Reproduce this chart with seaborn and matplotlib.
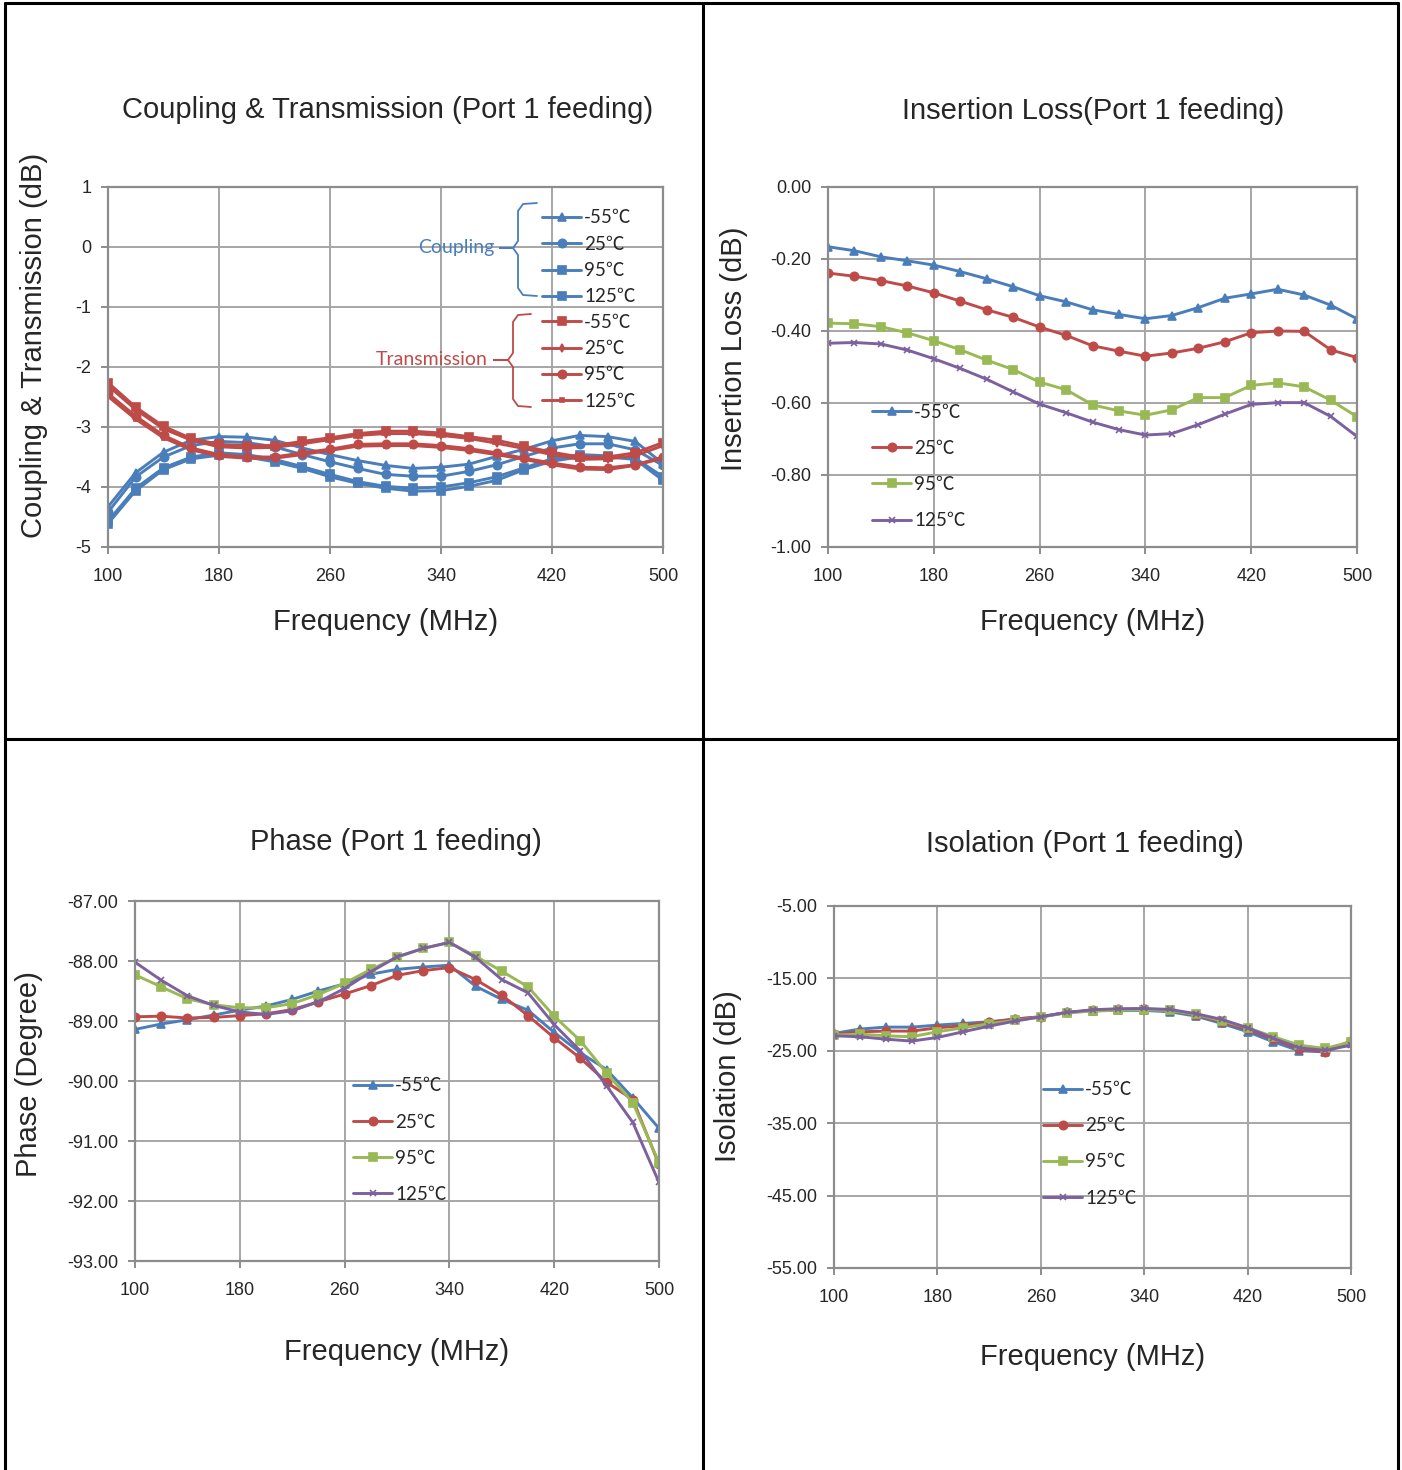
import matplotlib
matplotlib.use('Agg')
import matplotlib.pyplot as plt
import seaborn as sns
from matplotlib.lines import Line2D
from matplotlib.ticker import FormatStrFormatter

# x axis (MHz) and temperature labels
freq = [100, 120, 140, 160, 180, 200, 220, 240, 260, 280, 300,
        320, 340, 360, 380, 400, 420, 440, 460, 480, 500]
temps = ['-55℃', '25℃', '95℃', '125℃']

# Coupling & Transmission (dB)
coup_m55 = [-4.33, -3.76, -3.42, -3.22, -3.16, -3.17, -3.22, -3.35, -3.46, -3.56, -3.64,
            -3.69, -3.67, -3.62, -3.49, -3.37, -3.23, -3.14, -3.16, -3.24, -3.61]
coup_25 = [-4.42, -3.83, -3.50, -3.31, -3.24, -3.26, -3.33, -3.46, -3.58, -3.69, -3.79,
           -3.82, -3.82, -3.74, -3.63, -3.49, -3.35, -3.28, -3.28, -3.38, -3.64]
coup_95 = [-4.57, -4.02, -3.68, -3.50, -3.43, -3.46, -3.54, -3.66, -3.79, -3.91, -3.99,
           -4.02, -4.00, -3.93, -3.83, -3.68, -3.53, -3.46, -3.48, -3.52, -3.83]
coup_125 = [-4.61, -4.06, -3.71, -3.53, -3.47, -3.50, -3.58, -3.69, -3.83, -3.94, -4.02,
            -4.07, -4.06, -3.99, -3.89, -3.71, -3.57, -3.50, -3.50, -3.54, -3.89]
trans_m55 = [-2.26, -2.67, -2.99, -3.19, -3.29, -3.31, -3.31, -3.24, -3.18, -3.11, -3.07,
             -3.07, -3.10, -3.16, -3.22, -3.32, -3.42, -3.50, -3.50, -3.43, -3.26]
trans_25 = [-2.31, -2.71, -3.03, -3.22, -3.33, -3.35, -3.34, -3.28, -3.21, -3.14, -3.11,
            -3.11, -3.14, -3.19, -3.27, -3.36, -3.46, -3.54, -3.53, -3.48, -3.31]
trans_95 = [-2.44, -2.82, -3.14, -3.35, -3.46, -3.50, -3.50, -3.43, -3.37, -3.29, -3.28,
            -3.28, -3.31, -3.36, -3.43, -3.52, -3.60, -3.67, -3.68, -3.63, -3.50]
trans_125 = [-2.49, -2.87, -3.18, -3.38, -3.49, -3.52, -3.52, -3.46, -3.39, -3.32, -3.31,
             -3.31, -3.34, -3.39, -3.46, -3.54, -3.63, -3.70, -3.71, -3.64, -3.52]

# Insertion loss (dB)
il_m55 = [-0.166, -0.177, -0.194, -0.205, -0.217, -0.235, -0.255, -0.277, -0.302, -0.319, -0.341,
          -0.354, -0.366, -0.357, -0.335, -0.309, -0.297, -0.284, -0.300, -0.328, -0.366]
il_25 = [-0.239, -0.248, -0.260, -0.275, -0.294, -0.317, -0.341, -0.362, -0.389, -0.412, -0.441,
         -0.456, -0.470, -0.461, -0.448, -0.430, -0.405, -0.400, -0.401, -0.452, -0.474]
il_95 = [-0.378, -0.380, -0.388, -0.405, -0.427, -0.452, -0.481, -0.507, -0.542, -0.563, -0.605,
         -0.622, -0.634, -0.619, -0.585, -0.585, -0.551, -0.544, -0.555, -0.592, -0.638]
il_125 = [-0.434, -0.432, -0.436, -0.453, -0.477, -0.504, -0.534, -0.569, -0.603, -0.627, -0.653,
          -0.674, -0.689, -0.685, -0.660, -0.631, -0.604, -0.599, -0.599, -0.637, -0.693]

# Phase (degree)
ph_m55 = [-89.14, -89.05, -88.98, -88.90, -88.82, -88.75, -88.64, -88.50, -88.38, -88.22, -88.14,
          -88.10, -88.07, -88.42, -88.64, -88.82, -89.19, -89.53, -89.81, -90.28, -90.79]
ph_25 = [-88.93, -88.92, -88.95, -88.94, -88.91, -88.88, -88.81, -88.68, -88.55, -88.41, -88.24,
         -88.16, -88.11, -88.31, -88.57, -88.91, -89.28, -89.62, -90.02, -90.31, -91.39]
ph_95 = [-88.23, -88.43, -88.63, -88.73, -88.78, -88.78, -88.71, -88.56, -88.37, -88.14, -87.94,
         -87.79, -87.69, -87.92, -88.17, -88.43, -88.92, -89.33, -89.87, -90.36, -91.36]
ph_125 = [-88.02, -88.32, -88.58, -88.74, -88.85, -88.89, -88.83, -88.68, -88.46, -88.18, -87.93,
          -87.79, -87.69, -87.94, -88.31, -88.53, -89.06, -89.50, -90.08, -90.69, -91.69]

# Isolation (dB)
iso_m55 = [-22.60, -22.00, -21.73, -21.73, -21.45, -21.22, -20.99, -20.62, -20.30, -19.70, -19.47,
           -19.42, -19.42, -19.61, -20.21, -21.22, -22.37, -23.76, -25.00, -25.14, -23.89]
iso_25 = [-22.74, -22.37, -22.28, -22.28, -21.82, -21.54, -21.08, -20.62, -20.30, -19.70, -19.42,
          -19.29, -19.24, -19.38, -20.07, -20.99, -22.05, -23.43, -24.77, -25.14, -23.62]
iso_95 = [-22.83, -22.70, -22.93, -23.06, -22.37, -21.82, -21.27, -20.81, -20.35, -19.75, -19.52,
          -19.38, -19.33, -19.42, -19.98, -20.85, -21.82, -23.06, -24.22, -24.68, -23.76]
iso_125 = [-22.93, -23.06, -23.39, -23.66, -23.16, -22.37, -21.59, -20.90, -20.30, -19.70, -19.33,
           -19.19, -19.15, -19.29, -19.88, -20.67, -21.82, -23.29, -24.59, -24.95, -24.22]

BLUE, RED, GREEN, PURPLE = '#4A7EBB', '#BE4B48', '#98B954', '#7D60A0'
GRID = '#A6A6A6'
LEG_FONT = ['Lato', 'Noto Sans CJK SC', 'DejaVu Sans']

sns.set_style('white')
plt.rcParams['font.family'] = ['Liberation Sans', 'DejaVu Sans']
plt.rcParams['axes.unicode_minus'] = False

fig = plt.figure(figsize=(14.02, 14.70), dpi=100)


def px_axes(l, t, r, b):
    W, H = 1402, 1470
    return fig.add_axes([l / W, 1 - b / H, (r - l) / W, (b - t) / H])


def style_axes(ax, ylim, yticks, fmt=None, xpad=20):
    ax.set_xlim(100, 500)
    ax.set_xticks([100, 180, 260, 340, 420, 500])
    ax.set_ylim(*ylim)
    ax.set_yticks(yticks)
    if fmt:
        ax.yaxis.set_major_formatter(FormatStrFormatter(fmt))
    ax.grid(True, color=GRID, linewidth=1.4)
    for s in ax.spines.values():
        s.set_color('#8C8C8C')
        s.set_linewidth(1.6)
    ax.tick_params(axis='both', labelsize=13, length=5, width=1.4, color='#8C8C8C',
                   direction='out', left=True, bottom=True)
    ax.tick_params(axis='x', pad=10)
    ax.tick_params(axis='y', pad=7)
    ax.set_xlabel('Frequency (MHz)', fontsize=21, labelpad=xpad)


def draw(ax, series, colors, markers, sizes, labels):
    for y, c, m, ms, lab in zip(series, colors, markers, sizes, labels):
        sns.lineplot(x=freq, y=y, ax=ax, color=c, marker=m, markersize=ms,
                     markeredgecolor=c, markeredgewidth=1.2, linewidth=2.1,
                     label=lab, legend=False, errorbar=None)


def add_legend(ax, handles, anchor, spacing):
    leg = ax.legend(handles=handles, labels=temps, loc='upper left', bbox_to_anchor=anchor,
                    frameon=False, borderpad=0, borderaxespad=0, handlelength=2.1,
                    handletextpad=0.15, labelspacing=spacing,
                    prop={'family': LEG_FONT, 'size': 13.5})
    return leg


# ---------- Coupling & Transmission ----------
ax1 = px_axes(108, 187, 663, 547)
draw(ax1, [coup_m55, coup_25, coup_95, coup_125], [BLUE] * 4, ['^', 'o', 's', 's'],
     [6, 6, 6, 6], temps)
draw(ax1, [trans_m55, trans_25, trans_95, trans_125], [RED] * 4, ['s', 'd', 'o', 's'],
     [6, 4, 6, 3.5], temps)
style_axes(ax1, (-5, 1), [-5, -4, -3, -2, -1, 0, 1], xpad=16.5)
ax1.set_ylabel('Coupling & Transmission (dB)', fontsize=21)
ax1.yaxis.set_label_coords(-0.108, 0.56)
lines = ax1.get_lines()
leg_c = add_legend(ax1, lines[:4], (0.782, 0.938), 0.5)
ax1.add_artist(leg_c)
add_legend(ax1, lines[4:8], (0.782, 0.648), 0.5)


def brace(ax, x, top, bot, mid, lead, hook, color):
    # pixel coordinates of panel 1 converted to axes fraction
    def c(px, py):
        return ((px - 108) / 555, (547 - py) / 360)
    pts = [c(hook, top), c(x + 5, top + 1), c(x, top + 8), c(x, mid - 7), c(x - 5, mid),
           c(lead, mid), c(x - 5, mid), c(x, mid + 7), c(x, bot - 8), c(x + 5, bot - 1),
           c(hook, bot)]
    xs, ys = zip(*pts)
    ax.add_line(Line2D(xs, ys, transform=ax.transAxes, color=color, linewidth=1.3,
                       clip_on=False))
    tx, ty = c(lead - 6, mid)
    return tx, ty


tx, ty = brace(ax1, 518, 203, 296, 248, 500, 537, BLUE)
ax1.text(tx, ty, 'Coupling', transform=ax1.transAxes, ha='right', va='center',
         color=BLUE, fontsize=14, family=LEG_FONT)
tx, ty = brace(ax1, 513, 314, 407, 360, 494, 531, RED)
ax1.text(tx, ty, 'Transmission', transform=ax1.transAxes, ha='right', va='center',
         color=RED, fontsize=14, family=LEG_FONT)

# ---------- Insertion Loss ----------
ax2 = px_axes(828, 187, 1357, 547)
draw(ax2, [il_m55, il_25, il_95, il_125], [BLUE, RED, GREEN, PURPLE], ['^', 'o', 's', 'x'],
     [6, 6, 6, 5], temps)
style_axes(ax2, (-1, 0), [-1.0, -0.8, -0.6, -0.4, -0.2, 0.0], '%.2f', xpad=16.5)
ax2.set_ylabel('Insertion Loss (dB)', fontsize=21)
ax2.yaxis.set_label_coords(-0.152, 0.55)
add_legend(ax2, ax2.get_lines()[:4], (0.083, 0.398), 1.02)

# ---------- Phase ----------
ax3 = px_axes(135, 901, 659, 1261)
draw(ax3, [ph_m55, ph_25, ph_95, ph_125], [BLUE, RED, GREEN, PURPLE], ['^', 'o', 's', 'x'],
     [6, 6, 6, 5], temps)
style_axes(ax3, (-93, -87), [-93, -92, -91, -90, -89, -88, -87], '%.2f', xpad=28)
ax3.set_ylabel('Phase (Degree)', fontsize=21)
ax3.yaxis.set_label_coords(-0.176, 0.52)
add_legend(ax3, ax3.get_lines()[:4], (0.416, 0.510), 1.02)

# ---------- Isolation ----------
ax4 = px_axes(834, 906, 1351, 1268)
draw(ax4, [iso_m55, iso_25, iso_95, iso_125], [BLUE, RED, GREEN, PURPLE], ['^', 'o', 's', 'x'],
     [6, 6, 6, 5], temps)
style_axes(ax4, (-55, -5), [-55, -45, -35, -25, -15, -5], '%.2f', xpad=27)
ax4.set_ylabel('Isolation (dB)', fontsize=21)
ax4.yaxis.set_label_coords(-0.177, 0.53)
add_legend(ax4, ax4.get_lines()[:4], (0.404, 0.516), 1.02)

# titles
for (cx, cy, txt) in [(388, 110, 'Coupling & Transmission (Port 1 feeding)'),
                      (1093, 111, 'Insertion Loss(Port 1 feeding)'),
                      (396, 842, 'Phase (Port 1 feeding)'),
                      (1085, 844, 'Isolation (Port 1 feeding)')]:
    fig.text(cx / 1402, 1 - cy / 1470, txt, fontsize=21, ha='center', va='center')

# table frame around the four charts
W, H = 1402, 1470
for (x0, y0, x1, y1) in [(5, 3, 1398, 3), (5, 3, 5, 1470), (1398, 3, 1398, 1470),
                         (703, 3, 703, 1470), (5, 739, 1398, 739)]:
    fig.add_artist(Line2D([x0 / W, x1 / W], [1 - y0 / H, 1 - y1 / H], color='black',
                          linewidth=2.2, transform=fig.transFigure))

fig.savefig('out.png', dpi=100)
